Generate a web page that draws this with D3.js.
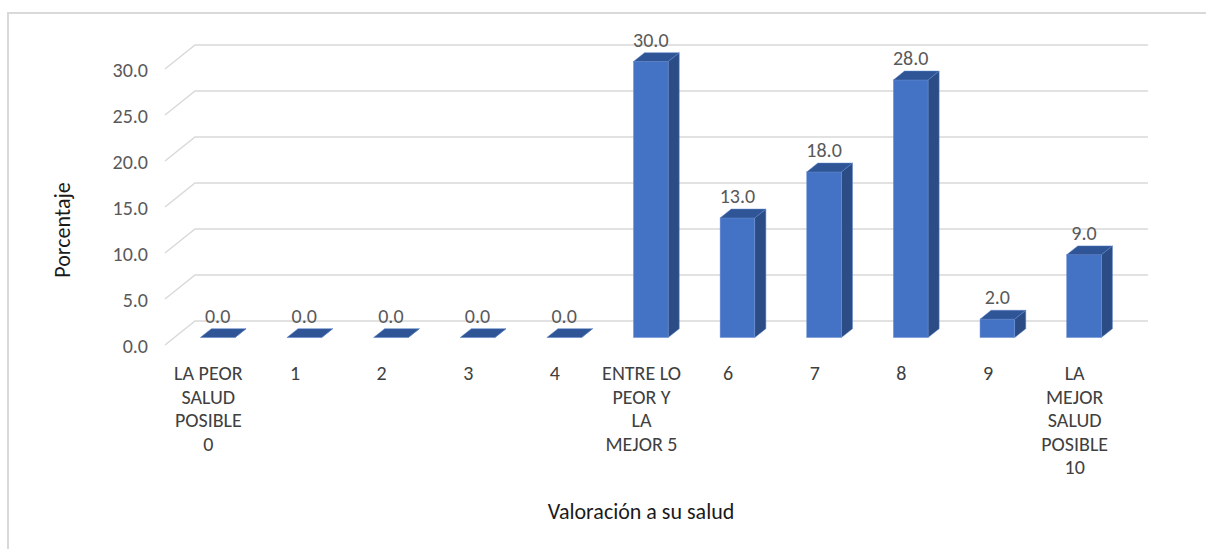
<!DOCTYPE html>
<html>
<head>
<meta charset="utf-8">
<script src="https://cdn.jsdelivr.net/npm/d3@7"></script>
<style>
  html, body { margin: 0; padding: 0; background: #fff; overflow: hidden; }
  text { font-family: Carlito, "Liberation Sans", Arial, sans-serif; }
</style>
</head>
<body>
<svg id="chart" width="1206" height="549"></svg>
<script>
// Categories (x axis) and values (percent)
const categories = [
  ["LA PEOR", "SALUD", "POSIBLE", "0"],
  ["1"], ["2"], ["3"], ["4"],
  ["ENTRE LO", "PEOR Y", "LA", "MEJOR 5"],
  ["6"], ["7"], ["8"], ["9"],
  ["LA", "MEJOR", "SALUD", "POSIBLE", "10"]
];
const values = [0, 0, 0, 0, 0, 30, 13, 18, 28, 2, 9];
const yTicks = [0, 5, 10, 15, 20, 25, 30];
const yTitle = "Porcentaje";
const xTitle = "Valoración a su salud";

const svg = d3.select("#chart");

// chart frame (right and bottom run off the picture)
svg.append("rect")
  .attr("x", 8).attr("y", 13)
  .attr("width", 1220).attr("height", 600)
  .attr("fill", "none")
  .attr("stroke", "#d9d9d9")
  .attr("stroke-width", 2);

// 3D depth of the plot area (front -> back wall)
const depth = { dx: 30, dy: -24 };
const barFront = 0.31;   // where the bars' front face sits in the depth
const barDepth = 0.37;   // how deep the bars are

const x = d3.scaleBand()
  .domain(d3.range(categories.length))
  .range([165, 1118])
  .paddingInner(0)
  .paddingOuter(0);

const y = d3.scaleLinear().domain([0, 30]).range([345, 69]);

// gridlines: diagonal on the floor side + line along the back wall
const grid = svg.append("g");
yTicks.forEach((t) => {
  const y0 = y(t);
  grid.append("path")
    .attr("d", `M${x.range()[0]},${y0} L${x.range()[0] + depth.dx},${y0 + depth.dy} L${x.range()[1] + depth.dx},${y0 + depth.dy}`)
    .attr("fill", "none")
    .attr("stroke", "#d9d9d9")
    .attr("stroke-width", 1.5);
});

// y tick labels
svg.append("g")
  .selectAll("text")
  .data(yTicks)
  .join("text")
  .attr("x", 148)
  .attr("y", (d) => y(d) + 1)
  .attr("dominant-baseline", "central")
  .attr("text-anchor", "end")
  .style("font-size", "20px")
  .style("fill", "#595959")
  .text((d) => d.toFixed(1));

// bars
const bw = x.bandwidth() * 0.4;
const fx = barFront * depth.dx, fy = barFront * depth.dy;
const bdx = barDepth * depth.dx, bdy = barDepth * depth.dy;

const bars = svg.append("g")
  .selectAll("g")
  .data(values)
  .join("g");

bars.each(function (v, i) {
  const g = d3.select(this);
  const cx = x(i) + x.bandwidth() / 2 + fx;
  const left = cx - bw / 2, right = cx + bw / 2;
  const top = y(v) + fy, bottom = y(0) + fy;

  // side face
  g.append("path")
    .attr("d", `M${right},${top} L${right + bdx},${top + bdy} L${right + bdx},${bottom + bdy} L${right},${bottom} Z`)
    .attr("fill", "#2b4c85")
    .attr("stroke", "#5b82c8").attr("stroke-width", 0.5);
  // front face
  g.append("rect")
    .attr("x", left).attr("y", top)
    .attr("width", bw).attr("height", bottom - top)
    .attr("fill", "#4472c4")
    .attr("stroke", "#6f93d4").attr("stroke-width", 0.5);
  // top face
  g.append("path")
    .attr("d", `M${left},${top} L${right},${top} L${right + bdx},${top + bdy} L${left + bdx},${top + bdy} Z`)
    .attr("fill", "#2f5597")
    .attr("stroke", "#5b82c8").attr("stroke-width", 0.5);

  // data label
  g.append("text")
    .attr("x", cx)
    .attr("y", top + bdy - 6)
    .attr("text-anchor", "middle")
    .style("font-size", "20px")
    .style("fill", "#595959")
    .text(v.toFixed(1));
});

// category labels (wrapped lines)
const catLabels = svg.append("g")
  .selectAll("text")
  .data(categories)
  .join("text")
  .attr("text-anchor", "middle")
  .style("font-size", "20px")
  .style("fill", "#404040");

catLabels.each(function (lines, i) {
  const t = d3.select(this);
  const cx = x(i) + x.bandwidth() / 2;
  lines.forEach((line, k) => {
    t.append("tspan")
      .attr("x", cx)
      .attr("y", 380 + k * 23.6)
      .text(line);
  });
});

// axis titles
svg.append("text")
  .attr("transform", "translate(70,230) rotate(-90)")
  .attr("text-anchor", "middle")
  .style("font-size", "22px")
  .style("fill", "#1a1a1a")
  .text(yTitle);

svg.append("text")
  .attr("x", 641)
  .attr("y", 519)
  .attr("text-anchor", "middle")
  .style("font-size", "22px")
  .style("fill", "#1a1a1a")
  .text(xTitle);
</script>
</body>
</html>
